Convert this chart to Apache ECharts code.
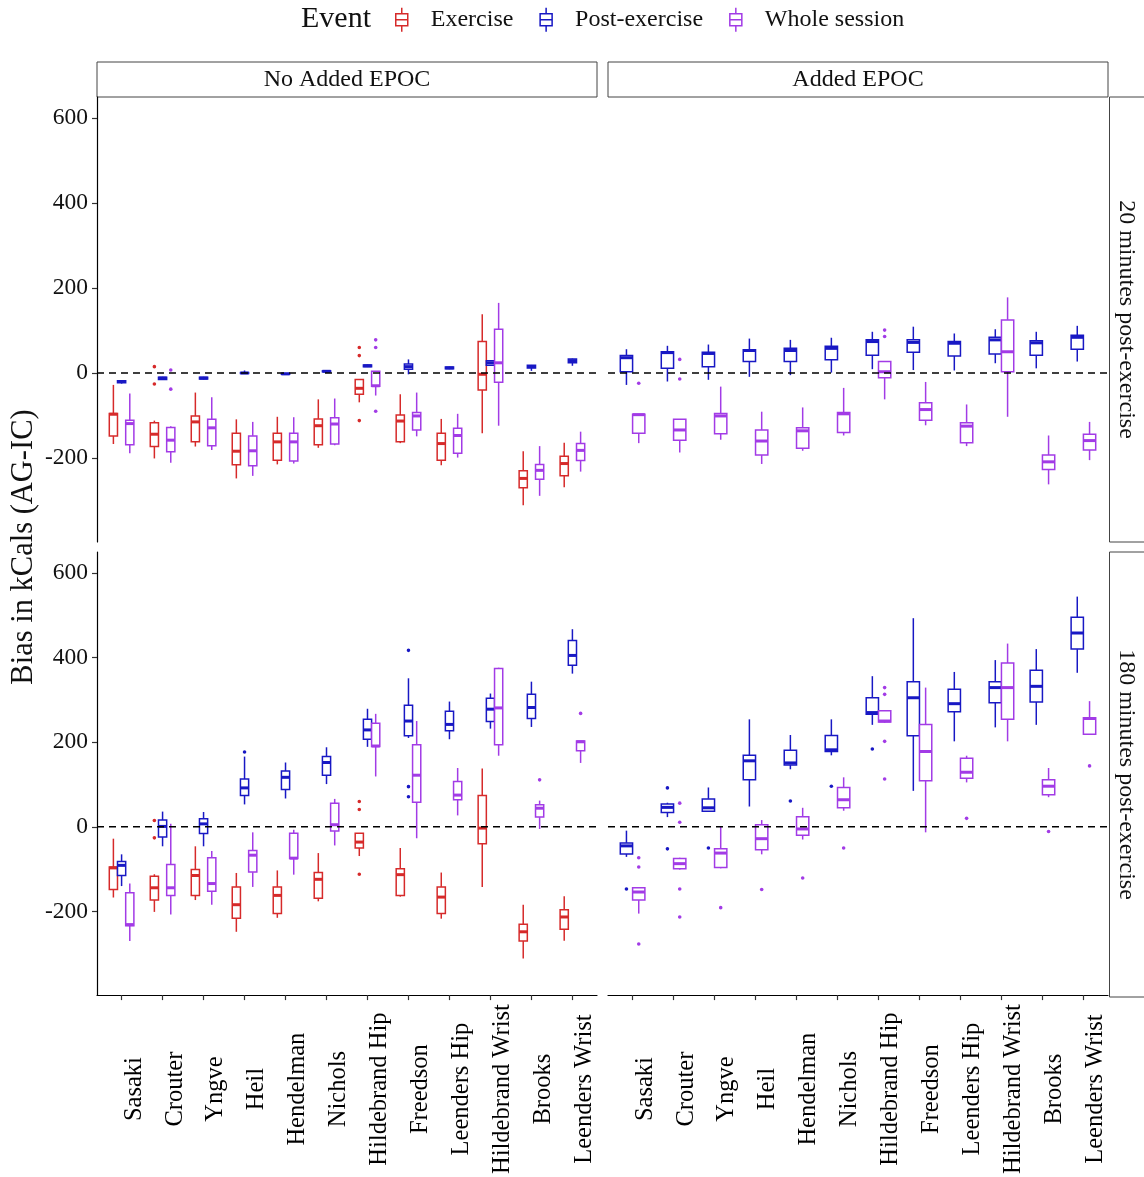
<!DOCTYPE html>
<html>
<head>
<meta charset="utf-8">
<script src="https://cdn.jsdelivr.net/npm/echarts@6/dist/echarts.min.js"></script>
<style>
  html, body { margin: 0; padding: 0; background: #fff; }
  #chart { width: 1144px; height: 1177px; }
</style>
</head>
<body>
<div id="chart"></div>
<script>
// Energy-expenditure bias (ActiGraph minus indirect calorimetry), by equation.
const methods = ['Sasaki', 'Crouter', 'Yngve', 'Heil', 'Hendelman', 'Nichols',
  'Hildebrand Hip', 'Freedson', 'Leenders Hip', 'Hildebrand Wrist', 'Brooks', 'Leenders Wrist'];
const columnLabels = ['No Added EPOC', 'Added EPOC'];
const rowLabels = ['20 minutes post-exercise', '180 minutes post-exercise'];
const yTicks = [-200, 0, 200, 400, 600];

// Each row: [lower whisker, Q1, median, Q3, upper whisker], one row per method.
const exercise = [
  [-167, -148, -97, -95, -28],
  [-201, -173, -144, -117, -112],
  [-173, -162, -115, -101, -46],
  [-248, -216, -184, -142, -109],
  [-215, -205, -162, -142, -103],
  [-176, -169, -124, -108, -62],
  [-69, -50, -36, -15, -15],
  [-165, -162, -113, -99, -50],
  [-217, -205, -166, -142, -108],
  [-142, -40, -3, 74, 138],
  [-311, -270, -248, -230, -184],
  [-269, -242, -213, -196, -164]
];
const exerciseOut = [[1, 15], [1, -26], [6, 60], [6, 41], [6, -112]];

// 20 minutes post-exercise, no added EPOC
const post20 = [
  [-25, -23, -20, -18, -17],
  [-16, -15, -12, -10, -9],
  [-15, -14, -12, -10, -9],
  [-2, -1, 0, 1, 6],
  [-4, -3, -2, -1, 0],
  [2, 3, 4, 5, 7],
  [14, 15, 17, 19, 20],
  [-3, 9, 15, 21, 32],
  [9, 10, 12, 14, 15],
  [17, 18, 24, 29, 30],
  [5, 12, 15, 18, 19],
  [17, 24, 29, 33, 34]
];
const whole20 = [
  [-189, -169, -119, -111, -48],
  [-211, -185, -158, -128, -125],
  [-181, -171, -129, -109, -57],
  [-242, -218, -183, -148, -115],
  [-213, -207, -162, -142, -104],
  [-170, -167, -120, -105, -60],
  [-53, -31, -30, 4, 4],
  [-149, -134, -101, -93, -46],
  [-199, -189, -147, -130, -96],
  [-124, -22, 24, 103, 165],
  [-289, -250, -229, -215, -172],
  [-232, -206, -182, -166, -138]
];
const whole20Out = [[1, 7], [1, -38], [6, 78], [6, 60], [6, -90]];

// 20 minutes post-exercise, added EPOC
const post20Epoc = [
  [-28, 3, 36, 41, 56],
  [-20, 11, 48, 50, 64],
  [-16, 15, 46, 49, 67],
  [-9, 27, 53, 55, 81],
  [-5, 27, 53, 58, 78],
  [1, 31, 58, 63, 83],
  [9, 42, 74, 78, 97],
  [7, 49, 72, 78, 109],
  [6, 40, 70, 74, 93],
  [23, 45, 78, 84, 103],
  [11, 42, 71, 76, 97],
  [27, 56, 84, 89, 111]
];
const whole20Epoc = [
  [-165, -142, -98, -97, -97],
  [-187, -158, -134, -109, -109],
  [-157, -143, -101, -95, -32],
  [-214, -193, -160, -134, -91],
  [-183, -177, -136, -129, -81],
  [-147, -140, -96, -93, -35],
  [-62, -11, 3, 27, 27],
  [-123, -111, -86, -70, -21],
  [-172, -164, -125, -117, -74],
  [-103, 3, 50, 125, 178],
  [-262, -227, -209, -193, -147],
  [-205, -181, -159, -144, -115]
];
const whole20EpocOut = [[0, -24], [1, 32], [1, -14], [6, 101], [6, 86]];

// 180 minutes post-exercise, no added EPOC
const post180 = [
  [-140, -115, -91, -82, -65],
  [-46, -24, 1, 16, 36],
  [-46, -16, 7, 19, 35],
  [53, 74, 92, 113, 166],
  [67, 88, 117, 132, 152],
  [101, 122, 152, 166, 188],
  [189, 207, 229, 254, 279],
  [210, 215, 250, 287, 351],
  [207, 227, 242, 273, 296],
  [232, 249, 278, 304, 315],
  [236, 256, 282, 313, 343],
  [362, 382, 405, 440, 467]
];
const post180Out = [[3, 177], [7, 417], [7, 95], [7, 71]];
const whole180 = [
  [-270, -234, -231, -156, -134],
  [-207, -162, -144, -89, 7],
  [-184, -152, -134, -73, -57],
  [-142, -107, -67, -56, -13],
  [-113, -75, -74, -15, -7],
  [-44, -10, 5, 56, 66],
  [119, 190, 191, 245, 267],
  [-27, 58, 122, 194, 250],
  [27, 64, 75, 107, 139],
  [168, 194, 281, 374, 376],
  [-5, 23, 44, 52, 62],
  [151, 180, 201, 203, 203]
];
const whole180Out = [[10, 111], [11, 268]];

// 180 minutes post-exercise, added EPOC
const post180Epoc = [
  [-71, -64, -45, -38, -9],
  [23, 34, 46, 54, 57],
  [35, 37, 45, 66, 93],
  [48, 111, 156, 169, 254],
  [136, 146, 151, 181, 217],
  [169, 178, 182, 216, 254],
  [241, 266, 270, 305, 356],
  [85, 215, 305, 343, 493],
  [202, 272, 291, 325, 366],
  [235, 293, 329, 343, 394],
  [241, 295, 332, 370, 420],
  [364, 420, 458, 495, 544]
];
const post180EpocOut = [[0, -147], [1, 92], [1, -52], [2, -50], [4, 61], [5, 96], [6, 184]];
const whole180Epoc = [
  [-205, -173, -154, -144, -144],
  [-101, -99, -87, -75, -73],
  [-98, -96, -62, -52, 1],
  [-65, -54, -28, 5, 16],
  [-30, -20, -5, 24, 45],
  [38, 45, 64, 93, 117],
  [246, 248, 250, 274, 276],
  [-13, 109, 178, 242, 329],
  [105, 115, 129, 162, 168],
  [202, 254, 329, 387, 433],
  [70, 76, 96, 111, 139],
  [219, 219, 256, 258, 297]
];
const whole180EpocOut = [[0, -73], [0, -95], [0, -277], [1, 56], [1, 11], [1, -147], [1, -213],
  [2, -191], [3, -148], [4, -121], [5, -50], [6, 329], [6, 313], [6, 202], [6, 113], [8, 20], [10, -11], [11, 144]];

const EVENTS = {
  'Exercise': '#D62A2A',
  'Post-exercise': '#1818C4',
  'Whole session': '#A23BE6'
};
const FONT = 'Liberation Serif';

// Panel layout (facet grid: columns = EPOC handling, rows = post-exercise window)
const panels = [
  { row: 0, col: 0, groups: [['Exercise', exercise, exerciseOut], ['Post-exercise', post20, []], ['Whole session', whole20, whole20Out]] },
  { row: 0, col: 1, groups: [['Post-exercise', post20Epoc, []], ['Whole session', whole20Epoc, whole20EpocOut]] },
  { row: 1, col: 0, groups: [['Exercise', exercise, exerciseOut], ['Post-exercise', post180, post180Out], ['Whole session', whole180, whole180Out]] },
  { row: 1, col: 1, groups: [['Post-exercise', post180Epoc, post180EpocOut], ['Whole session', whole180Epoc, whole180EpocOut]] }
];

const PANEL_LEFT = [97, 608], PANEL_TOP = [97, 552], PANEL_W = 500, PANEL_H = 445;
const DODGE = 0.6;

function boxRenderer(offset, width) {
  return function (params, api) {
    const i = api.value(0);
    const band = api.size([1, 0])[0];
    const cx = api.coord([i, 0])[0] + offset * band;
    const half = width * band / 2;
    const y = k => api.coord([i, api.value(k)])[1];
    const lo = y(1), q1 = y(2), med = y(3), q3 = y(4), hi = y(5);
    const color = api.visual('color');
    const ls = { stroke: color, lineWidth: 1.5, fill: null };
    return {
      type: 'group',
      children: [
        { type: 'line', shape: { x1: cx, y1: hi, x2: cx, y2: q3 }, style: ls },
        { type: 'line', shape: { x1: cx, y1: q1, x2: cx, y2: lo }, style: ls },
        { type: 'rect', shape: { x: cx - half, y: q3, width: 2 * half, height: q1 - q3 },
          style: { stroke: color, lineWidth: 1.5, fill: '#fff' } },
        { type: 'line', shape: { x1: cx - half, y1: med, x2: cx + half, y2: med },
          style: { stroke: color, lineWidth: 3 } }
      ]
    };
  };
}

function pointRenderer(offset) {
  return function (params, api) {
    const i = api.value(0);
    const band = api.size([1, 0])[0];
    const p = api.coord([i, api.value(1)]);
    return { type: 'circle', shape: { cx: p[0] + offset * band, cy: p[1], r: 1.8 },
      style: { fill: api.visual('color') } };
  };
}

const grid = [], xAxis = [], yAxis = [], series = [];
panels.forEach((pn, g) => {
  grid.push({ left: PANEL_LEFT[pn.col], top: PANEL_TOP[pn.row], width: PANEL_W, height: PANEL_H });
  const bottom = pn.row === 1, left = pn.col === 0;
  const idx = methods.map((_, i) => i);
  xAxis.push({
    gridIndex: g, type: 'value', min: -0.6, max: methods.length - 1 + 0.6,
    axisLine: { show: bottom, onZero: false, lineStyle: { color: '#000', width: 1.2 } },
    axisTick: { show: bottom, customValues: idx, length: 5, lineStyle: { color: '#333', width: 1.2 } },
    axisLabel: { show: bottom, customValues: idx, formatter: v => methods[Math.round(v)],
      rotate: 90, align: 'center', verticalAlign: 'top', margin: 94,
      fontFamily: FONT, fontSize: 24.5, color: '#000' },
    splitLine: { show: false }
  });
  yAxis.push({
    gridIndex: g, type: 'value', min: -397.6, max: 649.4,
    axisLine: { show: left, onZero: false, lineStyle: { color: '#000', width: 1.2 } },
    axisTick: { show: left, customValues: yTicks, length: 5, lineStyle: { color: '#333', width: 1.2 } },
    axisLabel: { show: left, customValues: yTicks, margin: 9, fontFamily: FONT, fontSize: 23.5, color: '#111' },
    splitLine: { show: false }
  });

  const n = pn.groups.length;
  const w = DODGE / n;
  pn.groups.forEach(([name, stats, outliers], k) => {
    const offset = -DODGE / 2 + w * (k + 0.5);
    const color = EVENTS[name];
    series.push({
      type: 'custom', name, xAxisIndex: g, yAxisIndex: g,
      itemStyle: { color },
      renderItem: boxRenderer(offset, w),
      encode: { x: 0, y: [1, 2, 3, 4, 5] },
      data: stats.map((s, i) => [i].concat(s)),
      z: 2
    });
    if (outliers.length) {
      series.push({
        type: 'custom', name, xAxisIndex: g, yAxisIndex: g,
        itemStyle: { color },
        renderItem: pointRenderer(offset),
        encode: { x: 0, y: 1 },
        data: outliers,
        z: 2
      });
    }
  });

  // Zero-bias reference line
  series.push({
    type: 'line', xAxisIndex: g, yAxisIndex: g, silent: true,
    symbol: 'none', data: [[-0.6, 0], [methods.length - 1 + 0.6, 0]],
    lineStyle: { color: '#000', width: 1.5, type: [7, 5] }, z: 5
  });
});

// Facet strips and the shared y-axis title
const graphic = [];
columnLabels.forEach((t, c) => {
  graphic.push({ type: 'rect', shape: { x: PANEL_LEFT[c], y: 62, width: PANEL_W, height: 35 },
    style: { fill: '#fff', stroke: '#444', lineWidth: 1 } });
  graphic.push({ type: 'text', x: PANEL_LEFT[c] + PANEL_W / 2, y: 79.5,
    style: { text: t, fontFamily: FONT, fontSize: 24, fill: '#111', align: 'center', verticalAlign: 'middle' } });
});
rowLabels.forEach((t, r) => {
  graphic.push({ type: 'rect', shape: { x: 1109.5, y: PANEL_TOP[r], width: 40, height: PANEL_H },
    style: { fill: '#fff', stroke: '#444', lineWidth: 1 } });
  graphic.push({ type: 'text', x: 1126.5, y: PANEL_TOP[r] + PANEL_H / 2, rotation: -Math.PI / 2,
    style: { text: t, fontFamily: FONT, fontSize: 24, fill: '#111', align: 'center', verticalAlign: 'middle' } });
});
graphic.push({ type: 'text', x: 24, y: 547, rotation: Math.PI / 2,
  style: { text: 'Bias in kCals (AG-IC)', fontFamily: FONT, fontSize: 30.5, fill: '#111', align: 'center', verticalAlign: 'middle' } });

const chart = echarts.init(document.getElementById('chart'), null, { renderer: 'canvas' });
chart.setOption({
  backgroundColor: '#fff',
  animation: false,
  title: { text: 'Event', left: 301, top: 4, padding: 0,
    textStyle: { fontFamily: FONT, fontSize: 30, fontWeight: 'normal', color: '#111' } },
  legend: {
    data: Object.keys(EVENTS).map(name => ({
      name,
      itemStyle: { color: '#fff', borderColor: EVENTS[name], borderWidth: 1.5 }
    })),
    left: 395, top: 7, padding: 0,
    itemWidth: 12, itemHeight: 24, itemGap: 26,
    symbolKeepAspect: false,
    icon: 'path://M6,0V6M6,18V24M0,6H12V18H0ZM0,12H12',
    textStyle: { fontFamily: FONT, fontSize: 24, color: '#111', padding: [0, 0, 0, 18] },
    selectedMode: false
  },
  grid, xAxis, yAxis, series, graphic
});
</script>
</body>
</html>
